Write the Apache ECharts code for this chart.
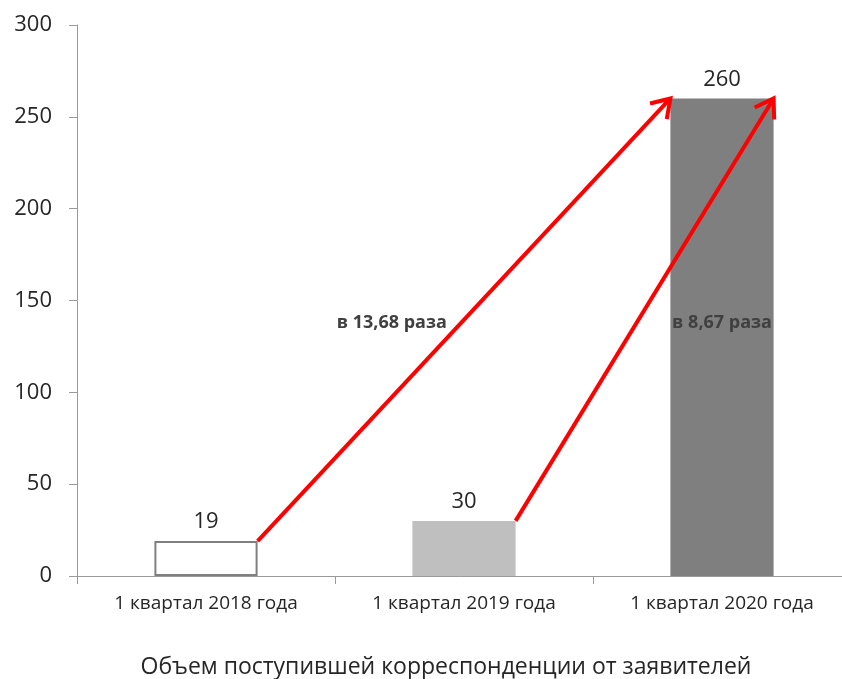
<!DOCTYPE html>
<html>
<head>
<meta charset="utf-8">
<script src="https://cdn.jsdelivr.net/npm/echarts@6/dist/echarts.min.js"></script>
<style>html,body{margin:0;padding:0;background:#fff;}#chart{width:842px;height:679px;}</style>
</head>
<body>
<div id="chart"></div>
<script>
const categories = ['1 квартал 2018 года', '1 квартал 2019 года', '1 квартал 2020 года'];
const values = [19, 30, 260];
const yTicks = [0, 50, 100, 150, 200, 250, 300];
const chartTitle = 'Объем поступившей корреспонденции от заявителей';
// arrows: from bar index (right edge) to bar index, side of target bar (-1 left edge, +1 right edge)
const arrowFrom = [0, 1];
const arrowTo = [2, 2];
const arrowToSide = [-1, 1];
// ratio annotations: text, category position, value level
const annText = ['в 13,68 раза', 'в 8,67 раза'];
const annX = [0.72, 2.0];
const annY = [138, 138];

const BAR_FRAC = 0.4;
const FONT = '"Open Sans", "Noto Sans", sans-serif';

const chart = echarts.init(document.getElementById('chart'));

const arrowData = arrowFrom.map((f, i) => [
  f + BAR_FRAC / 2, values[f],
  arrowTo[i] + arrowToSide[i] * BAR_FRAC / 2, values[arrowTo[i]]
]);
const annData = annText.map((t, i) => [annX[i], annY[i], t]);

chart.setOption({
  animation: false,
  backgroundColor: '#fff',
  title: {
    text: chartTitle,
    left: 441, top: 651, textAlign: 'center',
    textStyle: { fontFamily: FONT, fontSize: 23, fontWeight: 'normal', color: '#262626' }
  },
  grid: { left: 77, width: 774, top: 25, height: 551, outerBoundsMode: 'none', containLabel: false },
  xAxis: [{
    type: 'category',
    data: categories,
    axisLine: { lineStyle: { color: '#9a9a9a', width: 1 } },
    axisTick: { show: true, length: 8, lineStyle: { color: '#9a9a9a' } },
    axisLabel: { fontFamily: FONT, fontSize: 19, color: '#262626', margin: 18, interval: 0 }
  }, {
    type: 'value', min: -0.5, max: 2.5, show: false
  }],
  yAxis: {
    type: 'value', min: 0, max: 300, interval: 50,
    axisLine: { show: true, onZero: false, lineStyle: { color: '#9a9a9a', width: 1 } },
    axisTick: { show: true, length: 8, lineStyle: { color: '#9a9a9a' } },
    splitLine: { show: false },
    axisLabel: { fontFamily: FONT, fontSize: 22, color: '#262626', margin: 25,
      formatter: v => yTicks.includes(v) ? String(v) : '' }
  },
  series: [{
    type: 'bar',
    xAxisIndex: 0,
    barWidth: (BAR_FRAC * 100) + '%',
    data: values.map((v, i) => ({
      value: v,
      itemStyle: i === 0 ? { color: '#ffffff', borderColor: '#808080', borderWidth: 2 }
                : i === 1 ? { color: '#bfbfbf' } : { color: '#7f7f7f' }
    })),
    label: { show: true, position: 'top', distance: 8, fontFamily: FONT, fontSize: 22, color: '#262626' }
  }, {
    type: 'custom',
    xAxisIndex: 1,
    z: 10,
    data: arrowData,
    renderItem: function (params, api) {
      const p0 = api.coord([api.value(0), api.value(1)]);
      const p1 = api.coord([api.value(2), api.value(3)]);
      const dx = p1[0] - p0[0], dy = p1[1] - p0[1];
      const len = Math.sqrt(dx * dx + dy * dy);
      const ux = dx / len, uy = dy / len;
      const L = 21, a = 33 * Math.PI / 180;
      const rot = (ang) => [-(ux * Math.cos(ang) - uy * Math.sin(ang)) * L, -(ux * Math.sin(ang) + uy * Math.cos(ang)) * L];
      const r1 = rot(a), r2 = rot(-a);
      const style = { stroke: '#ff0000', lineWidth: 4, fill: null, lineJoin: 'miter' };
      return {
        type: 'group',
        children: [
          { type: 'line', shape: { x1: p0[0], y1: p0[1], x2: p1[0], y2: p1[1] }, style: style },
          { type: 'polyline', shape: { points: [[p1[0] + r1[0], p1[1] + r1[1]], p1, [p1[0] + r2[0], p1[1] + r2[1]]] }, style: style }
        ]
      };
    }
  }, {
    type: 'custom',
    xAxisIndex: 1,
    z: 11,
    data: annData,
    renderItem: function (params, api) {
      const p = api.coord([api.value(0), api.value(1)]);
      return {
        type: 'text',
        style: {
          text: annText[params.dataIndex], x: p[0], y: p[1],
          align: 'center', verticalAlign: 'middle',
          font: 'bold 18px ' + FONT, fill: '#404040'
        }
      };
    }
  }]
});
</script>
</body>
</html>
